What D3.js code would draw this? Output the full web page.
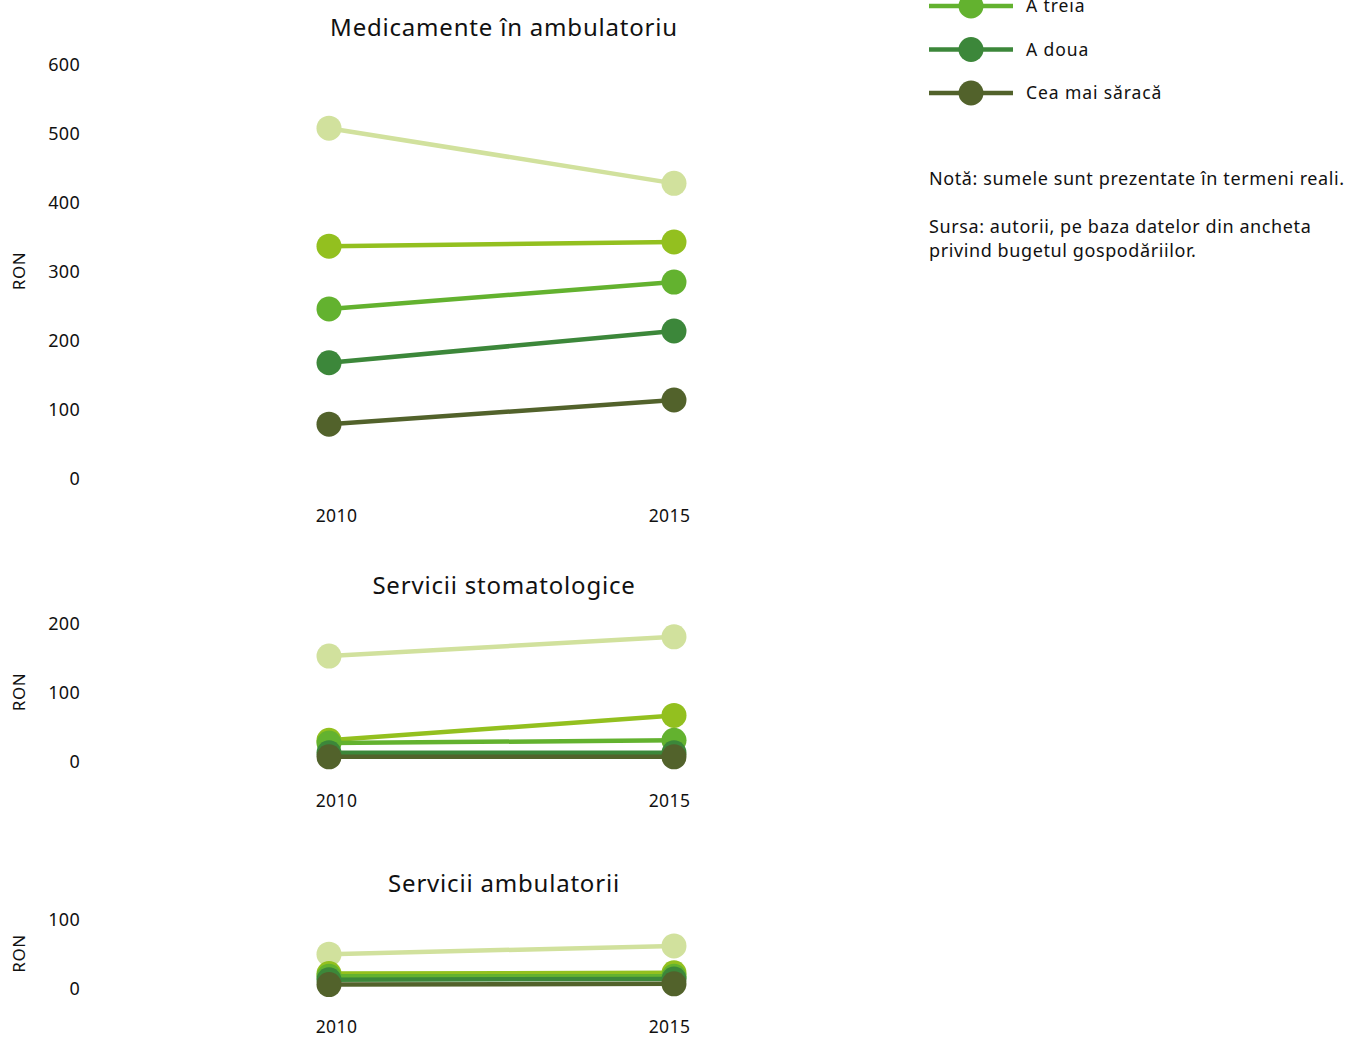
<!DOCTYPE html>
<html>
<head>
<meta charset="utf-8">
<script src="https://cdn.jsdelivr.net/npm/d3@7"></script>
<style>
  body { margin: 0; background: #fff; }
  svg { font-family: 'Noto Sans', sans-serif; }
</style>
</head>
<body>
<div id="chart"></div>
<script>

var years = ['2010', '2015'];
var quintiles = ['Cea mai bogată', 'A patra', 'A treia', 'A doua', 'Cea mai săracă'];
var colors = ['#d1e19d', '#93c01f', '#63b22f', '#3c873a', '#52622b'];

var medicamente = [[507, 427], [336, 342], [245, 284], [167, 213], [78, 113]];
var stomatologice = [[152, 180], [30, 66], [26, 30], [12, 12], [6, 6]];
var ambulatorii = [[49, 61], [21, 22], [17, 17], [12, 13], [5, 6]];

var titles = ['Medicamente în ambulatoriu', 'Servicii stomatologice', 'Servicii ambulatorii'];
var ticks1 = [0, 100, 200, 300, 400, 500, 600];
var ticks2 = [0, 100, 200];
var ticks3 = [0, 100];

var note = 'Notă: sumele sunt prezentate în termeni reali.';
var source = ['Sursa: autorii, pe baza datelor din ancheta', 'privind bugetul gospodăriilor.'];

var W = 1349, H = 1038;
var PX_PER_UNIT = 0.69;
var INK = '#111';

var svg = d3.select('#chart').append('svg')
  .attr('width', W).attr('height', H);

function translate(x, y) {
  return 'translate(' + x + ',' + y + ')';
}

// one small-multiple panel
function panel(opts) {

  var y = d3.scaleLinear()
    .domain([0, d3.max(opts.ticks)])
    .range([opts.zeroY, opts.zeroY - d3.max(opts.ticks) * PX_PER_UNIT]);

  var x = d3.scalePoint().domain(years).range([329, 674]);
  var xLab = d3.scalePoint().domain(years).range([336, 669]);

  var g = svg.append('g');

  g.append('text')
    .attr('x', 504).attr('y', opts.titleY)
    .attr('text-anchor', 'middle')
    .attr('font-size', 24)
    .attr('letter-spacing', 0.8)
    .attr('fill', INK)
    .text(opts.title);

  var yAxis = g.append('g')
    .attr('transform', translate(80, 0))
    .call(d3.axisLeft(y).tickValues(opts.ticks).tickSize(0).tickPadding(0));
  yAxis.select('.domain').remove();
  yAxis.selectAll('text')
    .attr('font-size', 18).attr('letter-spacing', 0.3).attr('fill', INK)
    .attr('font-family', "'Noto Sans', sans-serif")
    .attr('dy', '0.34em');

  var xAxis = g.append('g')
    .attr('transform', translate(0, opts.yearY))
    .call(d3.axisBottom(xLab).tickSize(0).tickPadding(0));
  xAxis.select('.domain').remove();
  xAxis.selectAll('text')
    .attr('font-size', 17.5).attr('letter-spacing', 0.4).attr('fill', INK)
    .attr('font-family', "'Noto Sans', sans-serif")
    .attr('y', 0).attr('dy', 0);

  g.append('text')
    .attr('transform', translate(25, (y.range()[0] + y.range()[1]) / 2) + ' rotate(-90)')
    .attr('text-anchor', 'middle')
    .attr('font-size', 17)
    .attr('letter-spacing', 0.5)
    .attr('fill', INK)
    .text('RON');

  var line = d3.line()
    .x(function(d, i) { return x(years[i]); })
    .y(function(d) { return y(d); });

  var series = g.selectAll('.series')
    .data(opts.data)
    .enter().append('g')
    .attr('class', 'series');

  series.append('path')
    .attr('d', function(d) { return line(d); })
    .attr('fill', 'none')
    .attr('stroke', function(d, i) { return colors[i]; })
    .attr('stroke-width', 4.5);

  series.selectAll('circle')
    .data(function(d, i) { return d.map(function(v, j) { return {v: v, j: j, c: colors[i]}; }); })
    .enter().append('circle')
    .attr('cx', function(d) { return x(years[d.j]); })
    .attr('cy', function(d) { return y(d.v); })
    .attr('r', 12.5)
    .attr('fill', function(d) { return d.c; });
}

panel({ title: titles[0], titleY: 36, zeroY: 478, ticks: ticks1, yearY: 522, data: medicamente });
panel({ title: titles[1], titleY: 594, zeroY: 761, ticks: ticks2, yearY: 807, data: stomatologice });
panel({ title: titles[2], titleY: 892, zeroY: 988, ticks: ticks3, yearY: 1033, data: ambulatorii });

// legend (upper rows fall above the visible area, as in the original crop)
var legend = svg.append('g');
var rowY = d3.scalePoint().domain(quintiles).range([-81, 93]);

var rows = legend.selectAll('.row')
  .data(quintiles)
  .enter().append('g')
  .attr('transform', function(d) { return translate(0, rowY(d)); });

rows.append('line')
  .attr('x1', 929).attr('x2', 1013)
  .attr('stroke', function(d, i) { return colors[i]; })
  .attr('stroke-width', 4.5);

rows.append('circle')
  .attr('cx', 971).attr('r', 12.5)
  .attr('fill', function(d, i) { return colors[i]; });

rows.append('text')
  .attr('x', 1026).attr('dy', '0.36em')
  .attr('font-size', 17.5).attr('fill', INK)
  .attr('letter-spacing', 0.9)
  .text(function(d) { return d; });

svg.append('text')
  .attr('x', 929).attr('y', 185)
  .attr('font-size', 18).attr('fill', INK)
  .attr('letter-spacing', 0.6)
  .text(note);

svg.append('text')
  .attr('x', 929).attr('y', 233)
  .attr('font-size', 18).attr('fill', INK)
  .attr('letter-spacing', 0.6)
  .selectAll('tspan')
  .data(source)
  .enter().append('tspan')
  .attr('x', 929)
  .attr('dy', function(d, i) { return i ? 24 : 0; })
  .text(function(d) { return d; });

</script>
</body>
</html>
